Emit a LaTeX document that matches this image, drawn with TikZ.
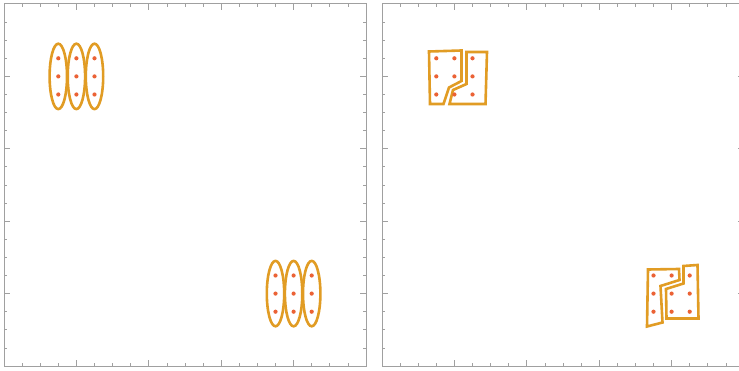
\documentclass[tikz,border=0pt]{standalone}
\usepackage{tikz}
\definecolor{outl}{HTML}{E19C24}
\definecolor{dotc}{HTML}{EB6235}
\definecolor{frm}{HTML}{A0A0A0}
\tikzset{
  frame/.style={draw=frm, line width=1pt},
  tickm/.style={draw=frm, line width=0.8pt},
  blob/.style={draw=outl, line width=2.6pt, line join=miter},
  pt/.style={fill=dotc, draw=none},
}
\newcommand\drawpanel[1]{%
  \draw[frame] (#1,4) rectangle ++(362,362);
  \foreach \i in {1,...,19}{%
    \pgfmathsetmacro\L{ifthenelse(mod(\i,4)==0,6,3)}
    \draw[tickm] (#1+\i*18.1,4) -- ++(0,\L);
    \draw[tickm] (#1+\i*18.1,366) -- ++(0,-\L);
    \draw[tickm] (#1,4+\i*18.1) -- ++(\L,0);
    \draw[tickm] (#1+362,4+\i*18.1) -- ++(-\L,0);
  }%
}
\newcommand\dotgrid[2]{%
  \foreach \a in {0,1,2}{\foreach \b in {0,1,2}{%
    \fill[pt] (#1+\a*18.1,#2+\b*18.1) circle (2.1);
  }}%
}
\begin{document}
\begin{tikzpicture}[x=1pt,y=-1pt]
\useasboundingbox (0,0) rectangle (739,371);
\clip (0,0) rectangle (739,371);
\fill[white] (0,0) rectangle (739,371);
\drawpanel{4}
\drawpanel{382}
% left panel ellipses
\foreach \cx in {58.3,76.4,94.5}{\draw[blob] (\cx,76.4) ellipse [x radius=8.7, y radius=32.7];}
\foreach \cx in {275.5,293.6,311.7}{\draw[blob] (\cx,293.6) ellipse [x radius=8.7, y radius=32.7];}
\dotgrid{58.3}{58.3}
\dotgrid{275.5}{275.5}
% right panel polygons, top cluster
\draw[blob] (429,51.5) -- (461.5,50.5) -- (461.5,81) -- (449,87.5) -- (443.5,104) -- (430,104) -- cycle;
\draw[blob] (466.5,52) -- (487,52) -- (485.5,104) -- (449.5,104) -- (453,90) -- (466.5,84) -- cycle;
% right panel polygons, bottom cluster
\draw[blob] (648,269.5) -- (679,269) -- (679.5,280) -- (660.5,286) -- (662.5,322.5) -- (647,326.5) -- cycle;
\draw[blob] (683.5,266) -- (697.5,265) -- (698.5,318.5) -- (666.5,318.5) -- (666,289) -- (683.5,283.5) -- cycle;
\dotgrid{436.3}{58.3}
\dotgrid{653.5}{275.5}
\end{tikzpicture}
\end{document}
